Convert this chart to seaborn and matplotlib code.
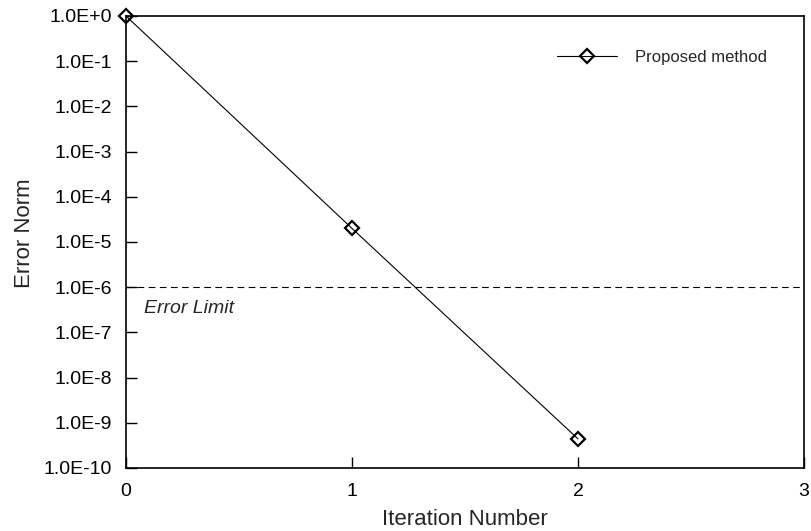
import matplotlib
matplotlib.use("Agg")
import matplotlib.pyplot as plt
import matplotlib.ticker as mticker
import seaborn as sns
import pandas as pd
import numpy as np

iterations = [0, 1, 2]
errors = [1.0, 2.0e-5, 4.4e-10]
series_name = "Proposed method"
error_limit = 1.0e-6
x_ticks = [0, 1, 2, 3]
y_exponents = list(range(0, -11, -1))

sns.set_theme(style="ticks")
plt.rcParams['font.family'] = ['Liberation Sans', 'DejaVu Sans']

df = pd.DataFrame({"Iteration Number": iterations, "Error Norm": errors, "Series": series_name})

fig = plt.figure(figsize=(8.11, 5.31), dpi=100)
ax = fig.add_axes([126/811, 1 - 468/531, (804 - 126)/811, (468 - 16)/531])

sns.lineplot(data=df, x="Iteration Number", y="Error Norm", hue="Series",
             palette=["black"], marker="D", markersize=7.5, markerfacecolor="none",
             markeredgecolor="black", markeredgewidth=1.6, linewidth=0.8,
             ax=ax, clip_on=False, zorder=5)

ax.set_yscale("log")
ax.set_xlim(0, 3)
ax.set_ylim(1e-10, 1e0)

ax.axhline(error_limit, color="black", linewidth=0.8, linestyle=(0, (6, 4)), zorder=3)
ax.text(0.08, 10**-6.47, "Error Limit", fontsize=14, fontstyle="italic",
        va="center", ha="left")

ax.xaxis.set_major_locator(mticker.FixedLocator(x_ticks))
ax.yaxis.set_major_locator(mticker.FixedLocator([10.0**e for e in y_exponents]))
ax.yaxis.set_minor_locator(mticker.NullLocator())
ax.xaxis.set_minor_locator(mticker.NullLocator())


def fmt_y(v, p):
    e = int(round(np.log10(v)))
    return "1.0E+0" if e == 0 else "1.0E{}".format(e)


ax.yaxis.set_major_formatter(mticker.FuncFormatter(fmt_y))
ax.xaxis.set_major_formatter(mticker.FuncFormatter(lambda v, p: "{:d}".format(int(v))))

ax.tick_params(axis="both", direction="in", length=8, width=1, labelsize=14,
               colors="black")
ax.tick_params(axis="y", pad=10)
ax.tick_params(axis="x", pad=11)
for s in ax.spines.values():
    s.set_linewidth(1.2)
    s.set_color("black")

ax.set_xlabel("Iteration Number", fontsize=16, labelpad=6)
ax.set_ylabel("Error Norm", fontsize=16, labelpad=6.5)
ax.yaxis.label.set_y(0.52)

leg = ax.legend(loc="upper right", bbox_to_anchor=(0.968, 0.958), frameon=False,
                fontsize=12, handlelength=3.6, handletextpad=1.1)

fig.savefig("out.png", dpi=100)
